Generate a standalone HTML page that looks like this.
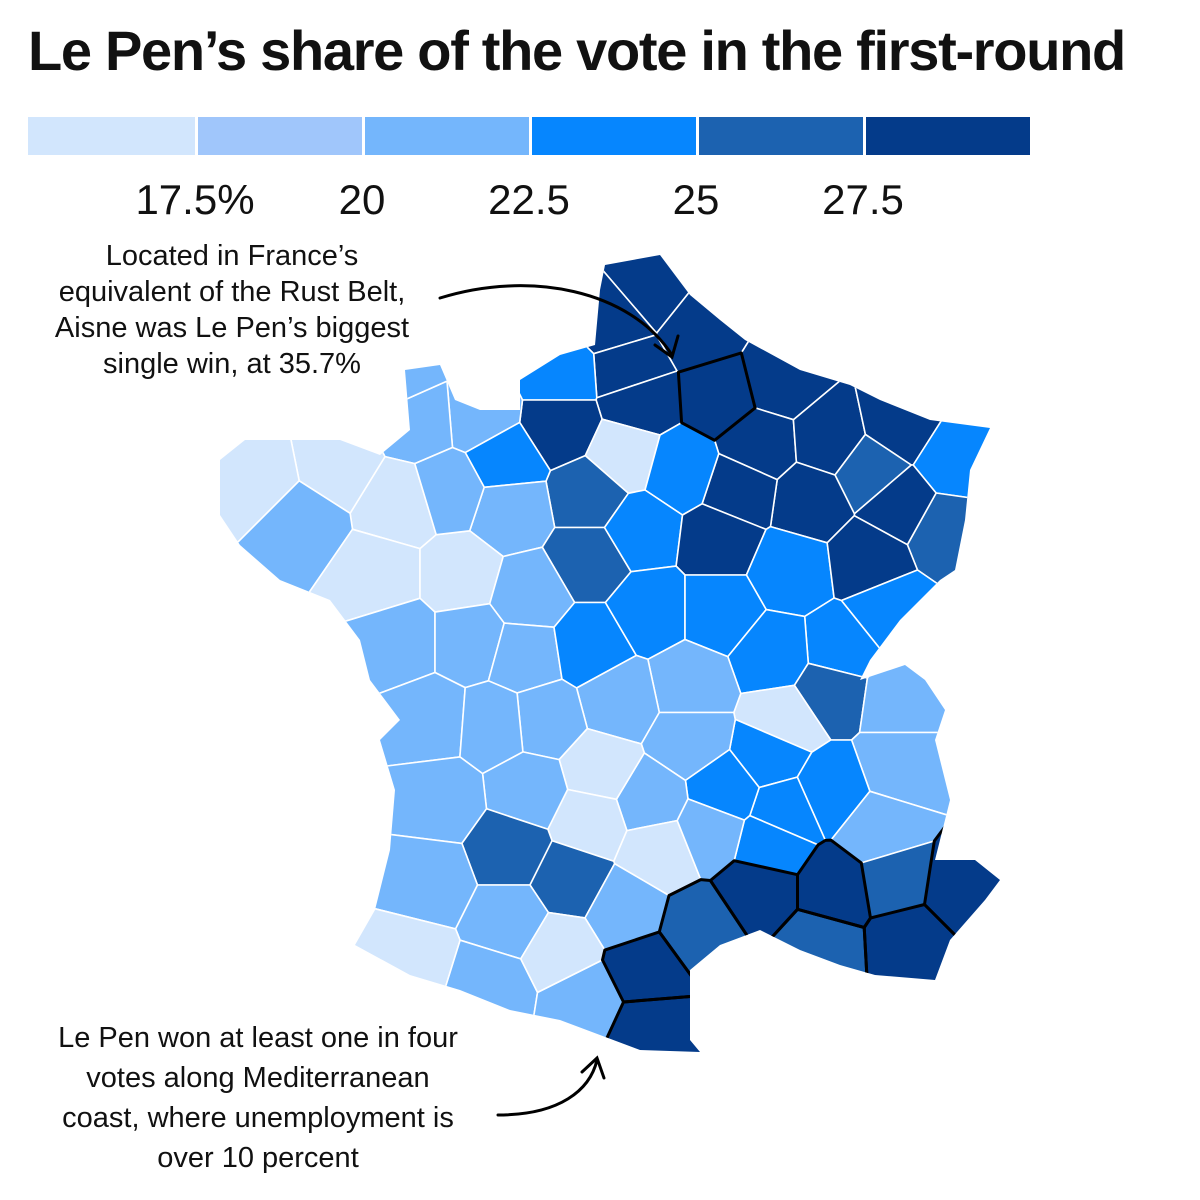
<!DOCTYPE html>
<html><head><meta charset="utf-8"><style>
body{margin:0;background:#fff;}
#wrap{position:relative;width:1200px;height:1200px;overflow:hidden;font-family:"Liberation Sans",sans-serif;}
.t{position:absolute;color:#111;white-space:nowrap;}
</style></head><body>
<div id="wrap">
<div class="t" style="left:28px;top:18px;font-size:56px;font-weight:bold;letter-spacing:-1.3px;">Le Pen’s share of the vote in the first-round</div>
<svg id="svg" width="1200" height="1200" style="position:absolute;left:0;top:0"></svg>
<div class="t" style="left:32px;top:238px;width:400px;text-align:center;font-size:29px;line-height:36px;">Located in France’s<br>equivalent of the Rust Belt,<br>Aisne was Le Pen’s biggest<br>single win, at 35.7%</div>
<div class="t" style="left:18px;top:1018px;width:480px;text-align:center;font-size:29px;line-height:40px;">Le Pen won at least one in four<br>votes along Mediterranean<br>coast, where unemployment is<br>over 10 percent</div>
</div>
<script>
const binColors=["#d2e6fd","#a0c6fb","#74b6fc","#0686fe","#1c62b0","#043b8a"];
const tickLabels=["17.5%","20","22.5","25","27.5"];
const deptNames=["Nord","Nord-E","Pas-de-Calais","Somme","Seine-Maritime","Aisne","Oise","Ardennes","Eure","Calvados","Manche","Manche-N","Paris","Marne","Meuse","Moselle","Meurthe-et-Moselle","Bas-Rhin","Haut-Rhin","Vosges","Haute-Marne","Aube","Seine-et-Marne","Eure-et-Loir","Orne","Sarthe","Ille-et-Vilaine","Cotes-d-Armor","Finistere","Morbihan","Loire-Atlantique","Maine-et-Loire","Mayenne","Loir-et-Cher","Loiret","Yonne","Cote-d-Or","Haute-Saone","Doubs","Jura","Indre-et-Loire","Vendee","Deux-Sevres","Vienne","Indre","Cher","Nievre","Saone-et-Loire","Ain","Haute-Savoie","Savoie","Rhone","Loire","Allier","Creuse","Haute-Vienne","Charente-Maritime","Charente","Puy-de-Dome","Isere","Hautes-Alpes","Drome","Haute-Loire","Ardeche","Cantal","Correze","Dordogne","Gironde","Lot","Aveyron","Lozere","Lot-et-Garonne","Tarn-et-Garonne","Tarn","Landes","Gers","Haute-Garonne","Pyrenees-Atlantiques","Hautes-Pyrenees","Ariege","Aude","Pyrenees-Orientales","Herault","Gard","Vaucluse","Bouches-du-Rhone","Var","Alpes-Maritimes","Alpes-de-Haute-Provence"];
const deptValues=[29,29,29,28.5,24,35.7,29,29,28,22,22,21,17,29,29,29,27,24,27,29,29,29,24,26,24,22,17,17,17,20,17,17,21,25,24,29,24,29,24,24,20,20,20,20,24,24,24,24,27,20,20,17,24,20,20,21,20,21,20,24,21,24,24,24,20,17,21,20,17,17,20,27,27,22,20,20,17,17,20,20,29,29,27,29,29,27,29,29,25];
const deptX=[650,700,615,630,560,720,640,780,560,480,420,400,625,760,830,900,870,955,945,900,810,740,680,590,505,510,400,335,260,300,380,460,450,590,640,720,790,870,890,840,530,400,470,525,590,650,720,775,830,900,900,785,770,690,620,545,430,495,690,830,880,785,725,770,650,600,530,440,590,660,710,510,570,625,430,510,560,410,490,585,645,650,700,760,835,820,910,960,895];
const deptY=[290,330,320,370,375,395,400,380,425,415,420,375,455,445,440,425,470,460,530,505,500,490,470,495,460,510,505,465,480,520,575,575,490,560,530,540,570,560,610,650,595,640,640,655,645,610,610,655,690,700,765,720,755,685,700,720,720,725,740,790,830,810,790,845,800,770,790,800,820,850,830,850,880,910,880,920,950,960,985,1000,970,1030,930,890,890,945,940,890,880];
const bolded=["Aisne","Aude","Pyrenees-Orientales","Herault","Gard","Vaucluse","Bouches-du-Rhone","Var","Alpes-Maritimes"];
const outline=[[605,265],[660,255],[690,295],[720,320],[745,340],[800,370],[850,385],[880,400],[930,420],[990,428],[970,470],[965,520],[955,570],[940,580],[900,620],[870,660],[860,680],[905,665],[925,680],[945,710],[935,740],[950,800],[940,840],[935,860],[975,860],[1000,880],[985,900],[950,940],[935,980],[875,975],[840,965],[800,950],[760,930],[720,945],[690,970],[690,1040],[700,1052],[640,1050],[600,1035],[560,1020],[510,1010],[460,990],[410,975],[355,945],[375,910],[390,850],[395,790],[380,740],[400,720],[370,680],[360,640],[330,600],[280,580],[240,545],[220,515],[220,460],[245,440],[300,440],[340,440],[380,455],[410,430],[405,370],[440,365],[455,400],[480,410],[520,410],[520,380],[560,355],[595,345],[600,290]];
const NS="http://www.w3.org/2000/svg";
const svg=document.getElementById('svg');
function binOf(v){return v<17.5?0:v<20?1:v<22.5?2:v<25?3:v<27.5?4:5;}
const legX0=28,legW=167,legY=117,legH=38;
binColors.forEach((c,i)=>{const r=document.createElementNS(NS,'rect');
r.setAttribute('x',legX0+i*legW+(i?3:0));r.setAttribute('y',legY);r.setAttribute('width',legW-(i?3:0));r.setAttribute('height',legH);r.setAttribute('fill',c);


svg.appendChild(r);});
tickLabels.forEach((l,i)=>{const t=document.createElementNS(NS,'text');
t.setAttribute('x',legX0+(i+1)*legW);t.setAttribute('y',214);t.setAttribute('text-anchor','middle');t.setAttribute('font-size','42');t.setAttribute('font-family','Liberation Sans, sans-serif');t.setAttribute('fill','#111');t.textContent=l;


svg.appendChild(t);});
const defs=document.createElementNS(NS,'defs');
const cp=document.createElementNS(NS,'clipPath');cp.setAttribute('id','fr');
const op=document.createElementNS(NS,'polygon');op.setAttribute('points',outline.map(p=>p.join(',')).join(' '));
cp.appendChild(op);defs.appendChild(cp);svg.appendChild(defs);
function clipHalf(poly,a,b,c){
const out=[];for(let i=0;i<poly.length;i++){const P=poly[i],Q=poly[(i+1)%poly.length];
const fp=a*P[0]+b*P[1]-c,fq=a*Q[0]+b*Q[1]-c;
if(fp<=0)out.push(P);
if((fp<0&&fq>0)||(fp>0&&fq<0)){const t=fp/(fp-fq);out.push([P[0]+t*(Q[0]-P[0]),P[1]+t*(Q[1]-P[1])]);}}
return out;}
const g=document.createElementNS(NS,'g');g.setAttribute('clip-path','url(#fr)');


svg.appendChild(g);
const cells=[];
for(let i=0;i<deptX.length;i++){let poly=[[150,200],[1100,200],[1100,1100],[150,1100]];
for(let j=0;j<deptX.length;j++){if(i===j)continue;
const a=deptX[j]-deptX[i],b=deptY[j]-deptY[i];
const c=(deptX[j]*deptX[j]-deptX[i]*deptX[i]+deptY[j]*deptY[j]-deptY[i]*deptY[i])/2;
poly=clipHalf(poly,a,b,c);if(!poly.length)break;}
cells.push(poly);
const p=document.createElementNS(NS,'polygon');
p.setAttribute('points',poly.map(q=>q[0].toFixed(1)+','+q[1].toFixed(1)).join(' '));
p.setAttribute('fill',binColors[binOf(deptValues[i])]);p.setAttribute('stroke','#fff');p.setAttribute('stroke-width','1.6');p.setAttribute('stroke-linejoin','round');


g.appendChild(p);}
cells.forEach((poly,i)=>{if(bolded.indexOf(deptNames[i])<0)return;
const p=document.createElementNS(NS,'polygon');
p.setAttribute('points',poly.map(q=>q[0].toFixed(1)+','+q[1].toFixed(1)).join(' '));
p.setAttribute('fill','none');p.setAttribute('stroke','#000');p.setAttribute('stroke-width','3');p.setAttribute('stroke-linejoin','round');


g.appendChild(p);});
function arrow(d,name){const p=document.createElementNS(NS,'path');p.setAttribute('d',d);p.setAttribute('fill','none');p.setAttribute('stroke','#000');p.setAttribute('stroke-width','3');p.setAttribute('stroke-linecap','round');


svg.appendChild(p);}
arrow('M440,298 C530,270 630,290 672,355','arrow-aisne');
arrow('M655,345 L672,357 L678,336','arrowhead-aisne');
arrow('M498,1115 C560,1115 590,1090 597,1060','arrow-mediterranean');
arrow('M582,1072 L597,1058 L604,1078','arrowhead-mediterranean');
</script>
</body></html>
